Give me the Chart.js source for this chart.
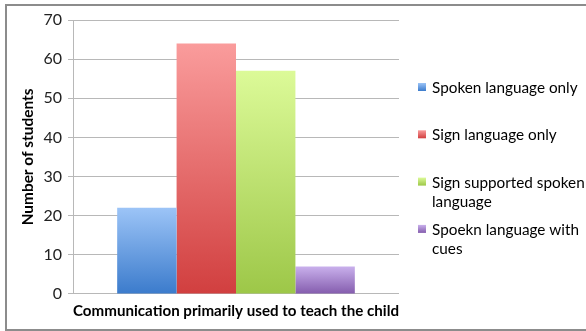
<!DOCTYPE html>
<html>
<head>
<meta charset="utf-8">
<script src="https://cdn.jsdelivr.net/npm/chart.js@4"></script>
<style>
  body { margin: 0; background: #fff; }
  #wrap { position: relative; width: 586px; height: 331px; overflow: hidden; }
  #frame { position: absolute; left: 5px; top: 4px; width: 620px; height: 323px;
           border: 2px solid #8c8c8c; border-right: none; pointer-events: none; }
  canvas { position: absolute; left: 0; top: 0; }
</style>
</head>
<body>
<div id="wrap">
  <div id="frame"></div>
  <canvas id="chart" width="586" height="331"></canvas>
</div>
<script>
const categories = [''];
const seriesNames = [
  ['Spoken language only'],
  ['Sign language only'],
  ['Sign supported spoken', 'language'],
  ['Spoekn language with', 'cues']
];
const seriesValues = [[22], [64], [57], [7]];
const topColors = ['#9cc4f7', '#fa9c9c', '#dcfa98', '#c9b0ec'];
const bottomColors = ['#3b7bcc', '#d13f3f', '#9dc748', '#845cad'];
const yTicks = [0, 10, 20, 30, 40, 50, 60, 70];

const FONT = 'Lato';

// each bar shades from light at its top to dark at the baseline
function barGradient(i) {
  return function (c) {
    const chart = c.chart;
    if (!chart.chartArea || c.raw === undefined) return bottomColors[i];
    const y = chart.scales.y;
    const g = chart.ctx.createLinearGradient(0, y.getPixelForValue(c.raw), 0, y.getPixelForValue(0));
    g.addColorStop(0, topColors[i]);
    g.addColorStop(1, bottomColors[i]);
    return g;
  };
}

const legendPlugin = {
  id: 'sideLegend',
  afterDraw(chart) {
    const ctx = chart.ctx;
    const x0 = 418, textX = 432, firstY = 88, step = 47.3, lineH = 19;
    ctx.save();
    ctx.font = '15.3px ' + FONT;
    ctx.textBaseline = 'middle';
    chart.data.datasets.forEach((ds, i) => {
      const y = firstY + step * i;
      const g = ctx.createLinearGradient(0, y - 5, 0, y + 3);
      g.addColorStop(0, topColors[i]);
      g.addColorStop(1, bottomColors[i]);
      ctx.fillStyle = g;
      ctx.fillRect(x0, y - 5, 8, 8);
      ctx.fillStyle = '#000';
      ds.label.forEach((line, k) => ctx.fillText(line, textX, y + k * lineH));
    });
    ctx.restore();
  }
};

new Chart(document.getElementById('chart'), {
  type: 'bar',
  data: {
    labels: categories,
    datasets: seriesValues.map((vals, i) => ({
      label: seriesNames[i],
      data: vals,
      backgroundColor: barGradient(i),
      borderWidth: 0,
      barPercentage: 1,
      categoryPercentage: 0.729
    }))
  },
  options: {
    responsive: false,
    devicePixelRatio: 1,
    animation: false,
    layout: { padding: { left: 10, top: 20, right: 187, bottom: 10.3 } },
    plugins: { legend: { display: false }, tooltip: { enabled: false } },
    scales: {
      x: {
        grid: { display: false, drawTicks: false },
        border: { display: false },
        ticks: { display: false },
        title: {
          display: true,
          text: 'Communication primarily used to teach the child',
          color: '#000',
          font: { family: FONT, size: 15.4, weight: 'bold' },
          padding: { top: 8.3, bottom: 0 }
        }
      },
      y: {
        min: 0,
        max: 70,
        afterBuildTicks: (s) => { s.ticks = yTicks.map(v => ({ value: v })); },
        afterFit: (s) => { s.width = 63; },
        grid: { color: '#b8b8b8', lineWidth: 1, tickLength: 5 },
        border: { color: '#b8b8b8' },
        ticks: {
          color: '#222',
          padding: 6,
          font: { family: FONT, size: 16 }
        },
        title: {
          display: true,
          text: 'Number of students',
          color: '#000',
          font: { family: FONT, size: 15.4, weight: 'bold' },
          padding: { top: 9, bottom: 0 }
        }
      }
    }
  },
  plugins: [legendPlugin]
});
</script>
</body>
</html>
